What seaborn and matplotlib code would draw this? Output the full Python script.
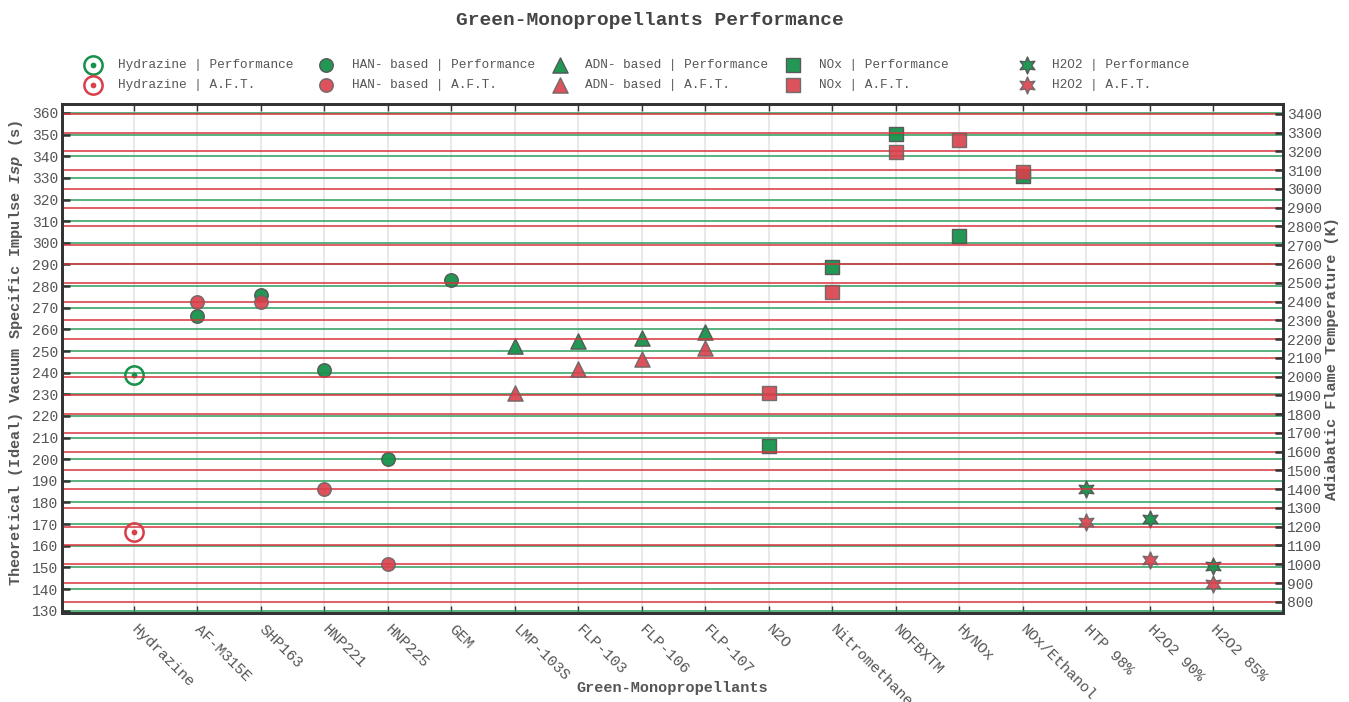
import matplotlib
matplotlib.use("Agg")
import matplotlib.pyplot as plt
import numpy as np
import pandas as pd
import seaborn as sns

# --- data ---
propellants = ['Hydrazine', 'AF-M315E', 'SHP163', 'HNP221', 'HNP225', 'GEM',
               'LMP-103S', 'FLP-103', 'FLP-106', 'FLP-107', 'N2O', 'Nitromethane',
               'NOFBXTM', 'HyNOx', 'NOx/Ethanol', 'HTP 98%', 'H2O2 90%', 'H2O2 85%']
families = ['Hydrazine', 'HAN- based', 'HAN- based', 'HAN- based', 'HAN- based', 'HAN- based',
            'ADN- based', 'ADN- based', 'ADN- based', 'ADN- based',
            'NOx', 'NOx', 'NOx', 'NOx', 'NOx', 'H2O2', 'H2O2', 'H2O2']
isp = [239, 266, 276, 241, 200, 283, 252.5, 254.8, 255.8, 258.8,
       206, 289, 350.2, 303, 331, 186.3, 172.3, 150.8]
aft = [1172, 2400, 2400, 1400, 1000, np.nan, 1910, 2040, 2095, 2150,
       1912, 2452, 3198, 3261, 3089, 1226, 1024, 896]

family_order = ['Hydrazine', 'HAN- based', 'ADN- based', 'NOx', 'H2O2']
family_markers = {'Hydrazine': r'$\odot$', 'HAN- based': 'o', 'ADN- based': '^',
                  'NOx': 's', 'H2O2': (6, 1, 0)}
family_sizes = {'Hydrazine': 190, 'HAN- based': 95, 'ADN- based': 120,
                'NOx': 95, 'H2O2': 150}

df = pd.DataFrame({'pos': np.arange(len(propellants)), 'name': propellants,
                   'family': families, 'isp': isp, 'aft': aft})

GREEN = '#17924b'
RED = '#d9404b'
GRID_GREEN = '#2e9e5b'
GRID_RED = '#d8343f'
TXT = '#555555'

sns.set_style('white')
plt.rcParams['font.family'] = ['Liberation Mono', 'DejaVu Sans Mono']
plt.rcParams['mathtext.fontset'] = 'custom'
plt.rcParams['mathtext.rm'] = 'Liberation Mono:bold'
plt.rcParams['mathtext.it'] = 'Liberation Mono:italic:bold'
plt.rcParams['mathtext.bf'] = 'Liberation Mono:bold'

fig = plt.figure(figsize=(13.49, 7.02), dpi=100)
ax = fig.add_axes([0.046, 0.127, 0.905, 0.725])
ax2 = ax.twinx()

handles = []
labels = []
for fam in family_order:
    sub = df[df['family'] == fam]
    mk = family_markers[fam]
    sz = family_sizes[fam]
    if fam == 'Hydrazine':
        kw_g = dict(color=GREEN, edgecolor=GREEN, linewidth=1.2)
        kw_r = dict(color=RED, edgecolor=RED, linewidth=1.2)
    else:
        kw_g = dict(color=GREEN, edgecolor='#555555', linewidth=1.0, alpha=0.95)
        kw_r = dict(color=RED, edgecolor='#666666', linewidth=1.0, alpha=0.9)
    sns.scatterplot(data=sub, x='pos', y='isp', marker=mk, s=sz, ax=ax, zorder=3, **kw_g)
    handles.append(ax.collections[-1])
    labels.append(f'{fam} | Performance'.ljust(24))
    sub_r = sub.dropna(subset=['aft'])
    sns.scatterplot(data=sub_r, x='pos', y='aft', marker=mk, s=sz, ax=ax2, zorder=3, **kw_r)
    handles.append(ax2.collections[-1])
    labels.append(f'{fam} | A.F.T.'.ljust(24))

# axes limits and ticks
ax.set_xlim(-1.13, 18.1)
ax.set_ylim(129.0, 364.2)
ax2.set_ylim(741, 3453)
ax.set_yticks(np.arange(130, 361, 10))
ax2.set_yticks(np.arange(800, 3401, 100))
ax.set_xticks(df['pos'])
ax.set_xticklabels(propellants, rotation=-45, ha='left', va='center',
                   rotation_mode='anchor', fontsize=11, color=TXT)

# grids: green for Isp, red for A.F.T., light grey vertical
ax.set_axisbelow(True)
ax2.set_axisbelow(True)
ax.yaxis.grid(True, color=GRID_GREEN, linewidth=1.3, alpha=0.85)
ax.xaxis.grid(True, color='#e9e9e9', linewidth=1.5)
ax2.yaxis.grid(True, color=GRID_RED, linewidth=1.3, alpha=0.85)
ax2.xaxis.grid(False)

ax.tick_params(axis='y', direction='in', length=6, width=1.8, color='#333333',
               labelsize=10.5, labelcolor=TXT, pad=3)
ax2.tick_params(axis='y', direction='in', length=6, width=1.8, color='#333333',
                labelsize=10.5, labelcolor=TXT, pad=3)
ax.tick_params(axis='x', direction='in', length=5, width=1, color='#333333',
               top=True, bottom=True, pad=10)

for a in (ax, ax2):
    for sp in a.spines.values():
        sp.set_color('#333333')
        sp.set_linewidth(2)

ax.set_xlabel('Green-Monopropellants', fontsize=11, fontweight='bold', color=TXT)
ax.xaxis.set_label_coords(0.5, -0.133)
ax.set_ylabel('Theoretical (Ideal) Vacuum Specific Impulse $Isp$ (s)',
              fontsize=11, fontweight='bold', color=TXT)
ax.yaxis.set_label_coords(-0.030, 0.51)
ax2.set_ylabel('Adiabatic Flame Temperature (K)', fontsize=11, fontweight='bold',
               color=TXT, labelpad=2)

fig.suptitle('Green-Monopropellants Performance', fontsize=14, fontweight='bold',
             color='#444444', x=0.482, y=0.971, va='center')

leg = fig.legend(handles, labels, ncol=5, loc='center left',
                 bbox_to_anchor=(0.064, 0.893), frameon=False, fontsize=9.2,
                 handlelength=1.0, handletextpad=1.5, columnspacing=1.45,
                 labelspacing=0.6, borderpad=0, borderaxespad=0)
for t in leg.get_texts():
    t.set_color(TXT)

fig.savefig('out.png', dpi=100)
